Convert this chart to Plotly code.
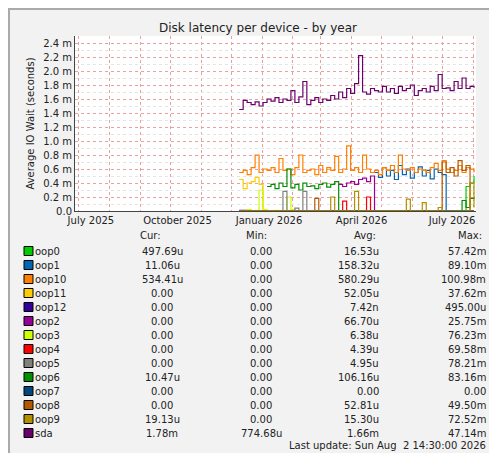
import plotly.graph_objects as go
import pandas as pd

dates = pd.date_range("2025-12-09", periods=60, freq="4D")
N = None
series = {
 "oop0": [0]*57 + [0.35, 0.40, 0.50],
 "oop1": [N]*34 + [0.55,0.48,0.62,0.50,0.58,0.45,0.65,0.52,0.60,0.47,0.55,0.63,0.50,0.58,0.46,0.60,0.55,0.52] + [0]*8,
 "oop10": [0.55,0.58,0.52,0.62,0.80,0.55,0.60,0.58,0.62,0.55,0.75,0.58,0.60,0.52,0.62,0.80,0.55,0.58,0.60,0.52,
           0.65,0.55,0.62,0.58,0.78,0.55,0.60,0.93,0.58,0.62,0.55,0.80,0.60,0.55,0.58,0.52,0.62,0.58,0.65,0.55,
           0.80,0.60,0.58,0.62,0.55,0.60,0.58,0.55,0.62,0.68,0.58,0.72,0.60,0.55,0.58,0.65,0.55,0.62,0.60,0.55],
 "oop11": [0.45,0.32,0.40,0.42,0.48,0.38] + [0]*54,
 "oop12": [0.01]*3 + [0]*57,
 "oop2": [N]*25 + [0.38,0.35,0.40,0.42,0.38,0.45,0.47,0.42,0.50] + [0]*26,
 "oop3": [0,0,0.02,0,0.01,0.30,0.02,0,0,0.01,0,0,0.20,0.02] + [0]*46,
 "oop4": [0]*26 + [0.14] + [0]*5 + [0.20] + [0]*27,
 "oop5": [0]*11 + [0.28,0,0,0.04,0,0.28] + [0]*43,
 "oop6": [N]*7 + [0.35,0.38,0.32,0.40,0.35,0.60,0.33,0.38,0.30,0.40,0.35,0.36,0.32,0.38,0.40,0.34,0.38,0.42] + [0]*31 + [0.15,0.05,0.18,0.20],
 "oop7": [0]*60,
 "oop8": [0]*19 + [0.18] + [0]*31 + [0.70,0.55,0.62,0.50,0.72,0.58,0.65] + [0]*2,
 "oop9": [0]*23 + [0.20] + [0]*5 + [0.28] + [0]*12 + [0.17] + [0]*3 + [0.12] + [0]*3 + [0.05] + [0]*7 + [0.40,0.05],
 "sda": [1.45,1.58,1.55,1.52,1.56,1.50,1.55,1.60,1.57,1.62,1.55,1.60,1.58,1.72,1.55,1.63,1.85,1.52,1.58,1.62,
         1.55,1.60,1.58,1.65,1.60,1.70,1.62,1.75,1.68,1.82,2.22,1.70,1.67,1.75,1.72,1.70,1.78,1.70,1.75,1.68,
         1.78,1.72,1.75,1.80,1.65,1.72,1.75,1.70,1.78,1.72,1.95,1.75,1.76,1.72,1.85,1.75,1.90,1.75,1.78,1.76],
}
colors = ["#00CC00","#0066B3","#FF8000","#FFCC00","#330099","#990099","#CCFF00","#FF0000",
          "#808080","#008F00","#00487D","#B35A00","#B38F00","#6B006B"]
cur = ["497.69u","11.06u","534.41u","0.00","0.00","0.00","0.00","0.00","0.00","10.47u","0.00","0.00","19.13u","1.78m"]
mins = ["0.00"]*13 + ["774.68u"]
avg = ["16.53u","158.32u","580.29u","52.05u","7.42n","66.70u","6.38u","4.39u","4.95u","106.16u","0.00","52.81u","15.30u","1.66m"]
mx = ["57.42m","89.10m","100.98m","37.62m","495.00u","25.75m","76.23m","69.58m","78.21m","83.16m","0.00","49.50m","72.52m","47.14m"]
yticks = [0,0.2,0.4,0.6,0.8,1.0,1.2,1.4,1.6,1.8,2.0,2.2,2.4]
ylabels = ["0.0"] + [f"{v:.1f} m" for v in yticks[1:]]
xtickvals = ["2025-07-13","2025-10-08","2026-01-08","2026-04-11","2026-07-11"]
xticktext = ["July 2025","October 2025","January 2026","April 2026","July 2026"]

W, H = 497, 453
L, R, T, B = 67, 468, 28, 203
F = "DejaVu Sans"
fig = go.Figure()
for (name, vals), c in zip(series.items(), colors):
    fig.add_trace(go.Scatter(x=dates, y=vals, mode="lines", line=dict(color=c, width=1.2, shape="hv"),
                             showlegend=False, connectgaps=False))

fig.update_layout(
    width=W, height=H, margin=dict(l=L, r=W-R, t=T, b=H-B, autoexpand=False),
    paper_bgcolor="#F2F2F2", plot_bgcolor="white",
    font=dict(family=F, size=10, color="#222"),
    title=dict(text="Disk latency per device - by year", x=250/W, xanchor="center", xref="container",
               y=1-20/H, yref="container", yanchor="middle", automargin=False,
               font=dict(size=12, color="#222")),
    xaxis=dict(type="date", range=["2025-06-27","2026-08-04"], tickvals=xtickvals, ticktext=xticktext,
               showgrid=False, ticks="", tickfont=dict(size=10), showline=True, linecolor="#444",
               automargin=False,
               minor=dict(dtick="M1", tick0="2025-07-01", showgrid=True, gridcolor="#E8A0A0", griddash="dot", gridwidth=1)),
    yaxis=dict(range=[0, 2.5], tickvals=yticks, ticktext=ylabels, showgrid=True, gridcolor="#E8A0A0",
               griddash="dot", zeroline=False, showline=True, linecolor="#444", ticks="", automargin=False,
               title=dict(text="Average IO Wait (seconds)", font=dict(size=10), standoff=6),
               minor=dict(dtick=0.1, tick0=0, showgrid=True, gridcolor="#E4E4E4", griddash="dot")),
)

def px(x): return (x - L) / (R - L)
def py(y): return (B - y) / (B - T)
ann = []
for t, xc in zip(["Cur:","Min:","Avg:","Max:"], [142, 248, 357, 462]):
    ann.append(dict(text=t, x=px(xc), y=py(227), xanchor="center"))
for i, name in enumerate(series):
    y = 243 + i * 14
    fig.add_shape(type="rect", xref="paper", yref="paper", x0=px(16), x1=px(25), y0=py(y+4.5), y1=py(y-4.5),
                  fillcolor=colors[i], line=dict(color="black", width=1))
    ann.append(dict(text=name, x=px(25), y=py(y), xanchor="left"))
    ann.append(dict(text=cur[i], x=px(154), y=py(y), xanchor="center"))
    ann.append(dict(text=mins[i], x=px(253), y=py(y), xanchor="center"))
    ann.append(dict(text=avg[i], x=px(373), y=py(y), xanchor="right"))
    ann.append(dict(text=mx[i], x=px(480), y=py(y), xanchor="right"))
ann.append(dict(text="Last update: Sun Aug  2 14:30:00 2026", x=px(480), y=py(438), xanchor="right"))
ann.append(dict(text="RRDTOOL / TOBI OETIKER", x=px(488), y=py(60), textangle=90, xanchor="center",
                font=dict(size=8, color="#BBBBBB", family=F)))
for a in ann:
    a.setdefault("xref", "paper"); a.setdefault("yref", "paper"); a.setdefault("yanchor", "middle")
    a.setdefault("showarrow", False); a.setdefault("font", dict(size=10, color="#222", family=F))
    a["xshift"] = 0
fig.update_layout(annotations=ann)
fig.add_shape(type="rect", xref="paper", yref="paper", x0=px(1), x1=px(496), y0=py(452), y1=py(1),
              line=dict(color="#AAAAAA", width=2), layer="below")
fig.write_html("out.html")
